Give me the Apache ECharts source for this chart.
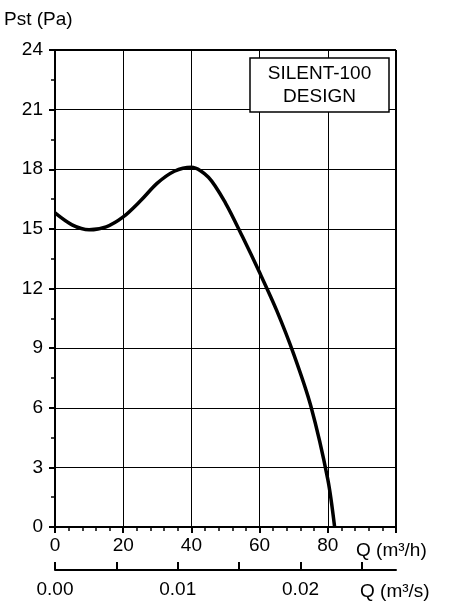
<!DOCTYPE html>
<html><head><meta charset="utf-8">
<script src="https://cdn.jsdelivr.net/npm/echarts@6/dist/echarts.min.js"></script>
<style>html,body{margin:0;background:#fff}#chart1{width:468px;height:612px}</style>
</head><body><div id="chart1"></div>
<script>
var flowM3h = [0, 5, 10, 15, 20, 25, 30, 35, 40, 45, 50, 55, 60, 65, 70, 75, 80, 82];
var pressurePa = [15.8, 15.2, 14.95, 15.1, 15.6, 16.4, 17.3, 17.9, 18.1, 17.6, 16.3, 14.6, 12.8, 10.9, 8.7, 6.1, 2.4, 0];
var font = 'Liberation Sans, Arial, sans-serif';

var dom = document.getElementById('chart1');
var myChart = echarts.init(dom, null, { renderer: 'canvas' });

var points = flowM3h.map(function (q, i) { return [q, pressurePa[i]]; });
var axisTxt = { color: '#000', fontSize: 19, fontFamily: font };

var option = {
  animation: false,
  grid: { left: 55, right: 72, top: 50, bottom: 85 },
  xAxis: [{
    type: 'value', min: 0, max: 100, interval: 20,
    axisLine: { show: true, onZero: false, lineStyle: { color: '#000', width: 2 } },
    axisTick: { show: true, length: 6, lineStyle: { color: '#000', width: 2 } },
    minorTick: { show: true, splitNumber: 5, length: 4, lineStyle: { color: '#000', width: 1.5 } },
    splitLine: { show: true, lineStyle: { color: '#000', width: 1 } },
    axisLabel: Object.assign({ margin: 9, formatter: function (v) { return v >= 100 ? '' : v; } }, axisTxt)
  }, {
    type: 'value', min: 0, max: 100 / 3600, interval: 0.005, position: 'bottom', offset: 43,
    axisLine: { show: true, onZero: false, lineStyle: { color: '#000', width: 2 } },
    axisTick: { show: true, inside: true, length: 8, lineStyle: { color: '#000', width: 2 } },
    splitLine: { show: false },
    axisLabel: Object.assign({ margin: 10, showMaxLabel: false, formatter: function (v) {
      var k = Math.round(v * 1000);
      return k % 10 === 0 ? v.toFixed(2) : '';
    } }, axisTxt)
  }],
  yAxis: {
    type: 'value', min: 0, max: 24, interval: 3,
    axisLine: { show: true, lineStyle: { color: '#000', width: 2 } },
    axisTick: { show: true, length: 6, lineStyle: { color: '#000', width: 2 } },
    minorTick: { show: true, splitNumber: 2, length: 4, lineStyle: { color: '#000', width: 1.5 } },
    splitLine: { show: true, lineStyle: { color: '#000', width: 1 } },
    axisLabel: Object.assign({ margin: 12 }, axisTxt)
  },
  graphic: [
    { type: 'rect', shape: { x: 396, y: 50, width: 0, height: 477 }, style: { stroke: '#000', lineWidth: 2 } },
    { type: 'rect', shape: { x: 55, y: 50, width: 341, height: 0 }, style: { stroke: '#000', lineWidth: 2 } },
    { type: 'text', left: 4, top: 10, style: { text: 'Pst (Pa)', fill: '#000', font: '19px ' + font } },
    { type: 'rect', shape: { x: 250, y: 58, width: 139, height: 54 }, style: { fill: '#fff', stroke: '#000', lineWidth: 1.5 }, z: 10 },
    { type: 'text', x: 319.5, y: 85, z: 11, style: { text: 'SILENT-100\nDESIGN', align: 'center', verticalAlign: 'middle', lineHeight: 23, fill: '#000', font: '19px ' + font } },
    { type: 'text', left: 356, top: 541, style: { text: 'Q (m³/h)', fill: '#000', font: '19px ' + font } },
    { type: 'text', left: 360, top: 582, style: { text: 'Q (m³/s)', fill: '#000', font: '19px ' + font } }
  ],
  series: [{
    type: 'line', xAxisIndex: 0, data: points, smooth: 0.3, showSymbol: false,
    lineStyle: { color: '#000', width: 3.5 }, z: 5
  }]
};

if (option && typeof option === 'object') {
  myChart.setOption(option);
}
window.addEventListener('resize', myChart.resize);
</script></body></html>
